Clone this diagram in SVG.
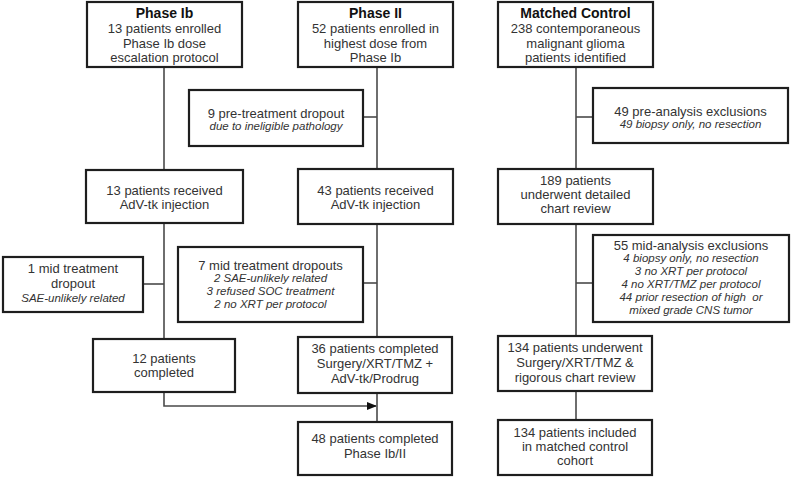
<svg xmlns="http://www.w3.org/2000/svg" width="792" height="481" viewBox="0 0 792 481">
<style>
.b{fill:#fff;stroke:#1e1e1e;stroke-width:2.2}
text{font-family:"Liberation Sans",Arial,sans-serif;font-size:13px;fill:#333;text-anchor:middle}
.h{font-weight:bold;fill:#111;font-size:14px}
.i{font-style:italic;font-size:11.5px}
.c{fill:none;stroke:#4a4a4a;stroke-width:1.6}
</style>
<defs>
<marker id="ah" markerWidth="10" markerHeight="8" refX="9" refY="4" orient="auto" markerUnits="userSpaceOnUse">
<path d="M0,0 L10,4 L0,8 Z" fill="#111"/>
</marker>
</defs>
<rect width="792" height="481" fill="#fff"/>
<g id="connectors">
<line class="c" x1="164" y1="67" x2="164" y2="170"/>
<line class="c" x1="164" y1="223" x2="164" y2="339"/>
<line class="c" x1="143" y1="284" x2="164" y2="284"/>
<polyline class="c" points="164,392 164,406 376,406" marker-end="url(#ah)"/>
<line class="c" x1="377" y1="67" x2="377" y2="169"/>
<line class="c" x1="363" y1="117" x2="377" y2="117"/>
<line class="c" x1="377" y1="224" x2="377" y2="337"/>
<line class="c" x1="363" y1="283" x2="377" y2="283"/>
<line class="c" x1="377" y1="393" x2="377" y2="422"/>
<line class="c" x1="576" y1="67" x2="576" y2="169"/>
<line class="c" x1="576" y1="117" x2="593" y2="117"/>
<line class="c" x1="576" y1="224" x2="576" y2="336"/>
<line class="c" x1="576" y1="283" x2="593" y2="283"/>
<line class="c" x1="576" y1="391" x2="576" y2="420"/>
</g>
<g id="phase1b">
<rect class="b" x="87" y="2" width="155" height="65"/>
<text class="h" x="164.5" y="18">Phase Ib</text>
<text x="164.5" y="33">13 patients enrolled</text>
<text x="164.5" y="47.5">Phase Ib dose</text>
<text x="164.5" y="62">escalation protocol</text>
</g>
<g id="phase2">
<rect class="b" x="298" y="2" width="155" height="65"/>
<text class="h" x="375.5" y="18">Phase II</text>
<text x="375.5" y="33">52 patients enrolled in</text>
<text x="375.5" y="47.5">highest dose from</text>
<text x="375.5" y="62">Phase Ib</text>
</g>
<g id="matched">
<rect class="b" x="498" y="2" width="155" height="65"/>
<text class="h" x="575.5" y="18">Matched Control</text>
<text x="575.5" y="33">238 contemporaneous</text>
<text x="575.5" y="47.5">malignant glioma</text>
<text x="575.5" y="62">patients identified</text>
</g>
<g id="pretreat">
<rect class="b" x="189" y="90" width="174" height="56"/>
<text x="276" y="118">9 pre-treatment dropout</text>
<text class="i" x="276" y="130">due to ineligible pathology</text>
</g>
<g id="preanalysis">
<rect class="b" x="593" y="88" width="195" height="55"/>
<text x="690.5" y="116">49 pre-analysis exclusions</text>
<text class="i" x="690.5" y="128">49 biopsy only, no resection</text>
</g>
<g id="recv13">
<rect class="b" x="86" y="170" width="157" height="53"/>
<text x="164.5" y="195">13 patients received</text>
<text x="164.5" y="209">AdV-tk injection</text>
</g>
<g id="recv43">
<rect class="b" x="298" y="169" width="155" height="55"/>
<text x="375.5" y="195">43 patients received</text>
<text x="375.5" y="209">AdV-tk injection</text>
</g>
<g id="review189">
<rect class="b" x="498" y="169" width="155" height="55"/>
<text x="575.5" y="185">189 patients</text>
<text x="575.5" y="199">underwent detailed</text>
<text x="575.5" y="213">chart review</text>
</g>
<g id="mid1">
<rect class="b" x="3" y="257" width="140" height="55"/>
<text x="73" y="273">1 mid treatment</text>
<text x="73" y="288">dropout</text>
<text class="i" x="73" y="302">SAE-unlikely related</text>
</g>
<g id="mid7">
<rect class="b" x="178" y="247" width="185" height="75"/>
<text x="270.5" y="270">7 mid treatment dropouts</text>
<text class="i" x="270.5" y="282">2 SAE-unlikely related</text>
<text class="i" x="270.5" y="295">3 refused SOC treatment</text>
<text class="i" x="270.5" y="308">2 no XRT per protocol</text>
</g>
<g id="mid55">
<rect class="b" x="593" y="235" width="196" height="87"/>
<text x="691" y="250">55 mid-analysis exclusions</text>
<text class="i" x="691" y="262">4 biopsy only, no resection</text>
<text class="i" x="691" y="275">3 no XRT per protocol</text>
<text class="i" x="691" y="288">4 no XRT/TMZ per protocol</text>
<text class="i" x="691" y="301" xml:space="preserve">44 prior resection of high  or</text>
<text class="i" x="691" y="314">mixed grade CNS tumor</text>
</g>
<g id="done12">
<rect class="b" x="93" y="339" width="142" height="53"/>
<text x="164" y="363">12 patients</text>
<text x="164" y="377">completed</text>
</g>
<g id="done36">
<rect class="b" x="298" y="337" width="154" height="56"/>
<text x="375" y="353">36 patients completed</text>
<text x="375" y="368">Surgery/XRT/TMZ +</text>
<text x="375" y="383">AdV-tk/Prodrug</text>
</g>
<g id="underwent134">
<rect class="b" x="498" y="336" width="154" height="55"/>
<text x="575" y="352">134 patients underwent</text>
<text x="575" y="367">Surgery/XRT/TMZ &amp;</text>
<text x="575" y="382">rigorous chart review</text>
</g>
<g id="done48">
<rect class="b" x="298" y="422" width="154" height="53"/>
<text x="375" y="443">48 patients completed</text>
<text x="375" y="458">Phase Ib/II</text>
</g>
<g id="included134">
<rect class="b" x="498" y="420" width="154" height="55"/>
<text x="575" y="437">134 patients included</text>
<text x="575" y="451">in matched control</text>
<text x="575" y="465">cohort</text>
</g>
</svg>
